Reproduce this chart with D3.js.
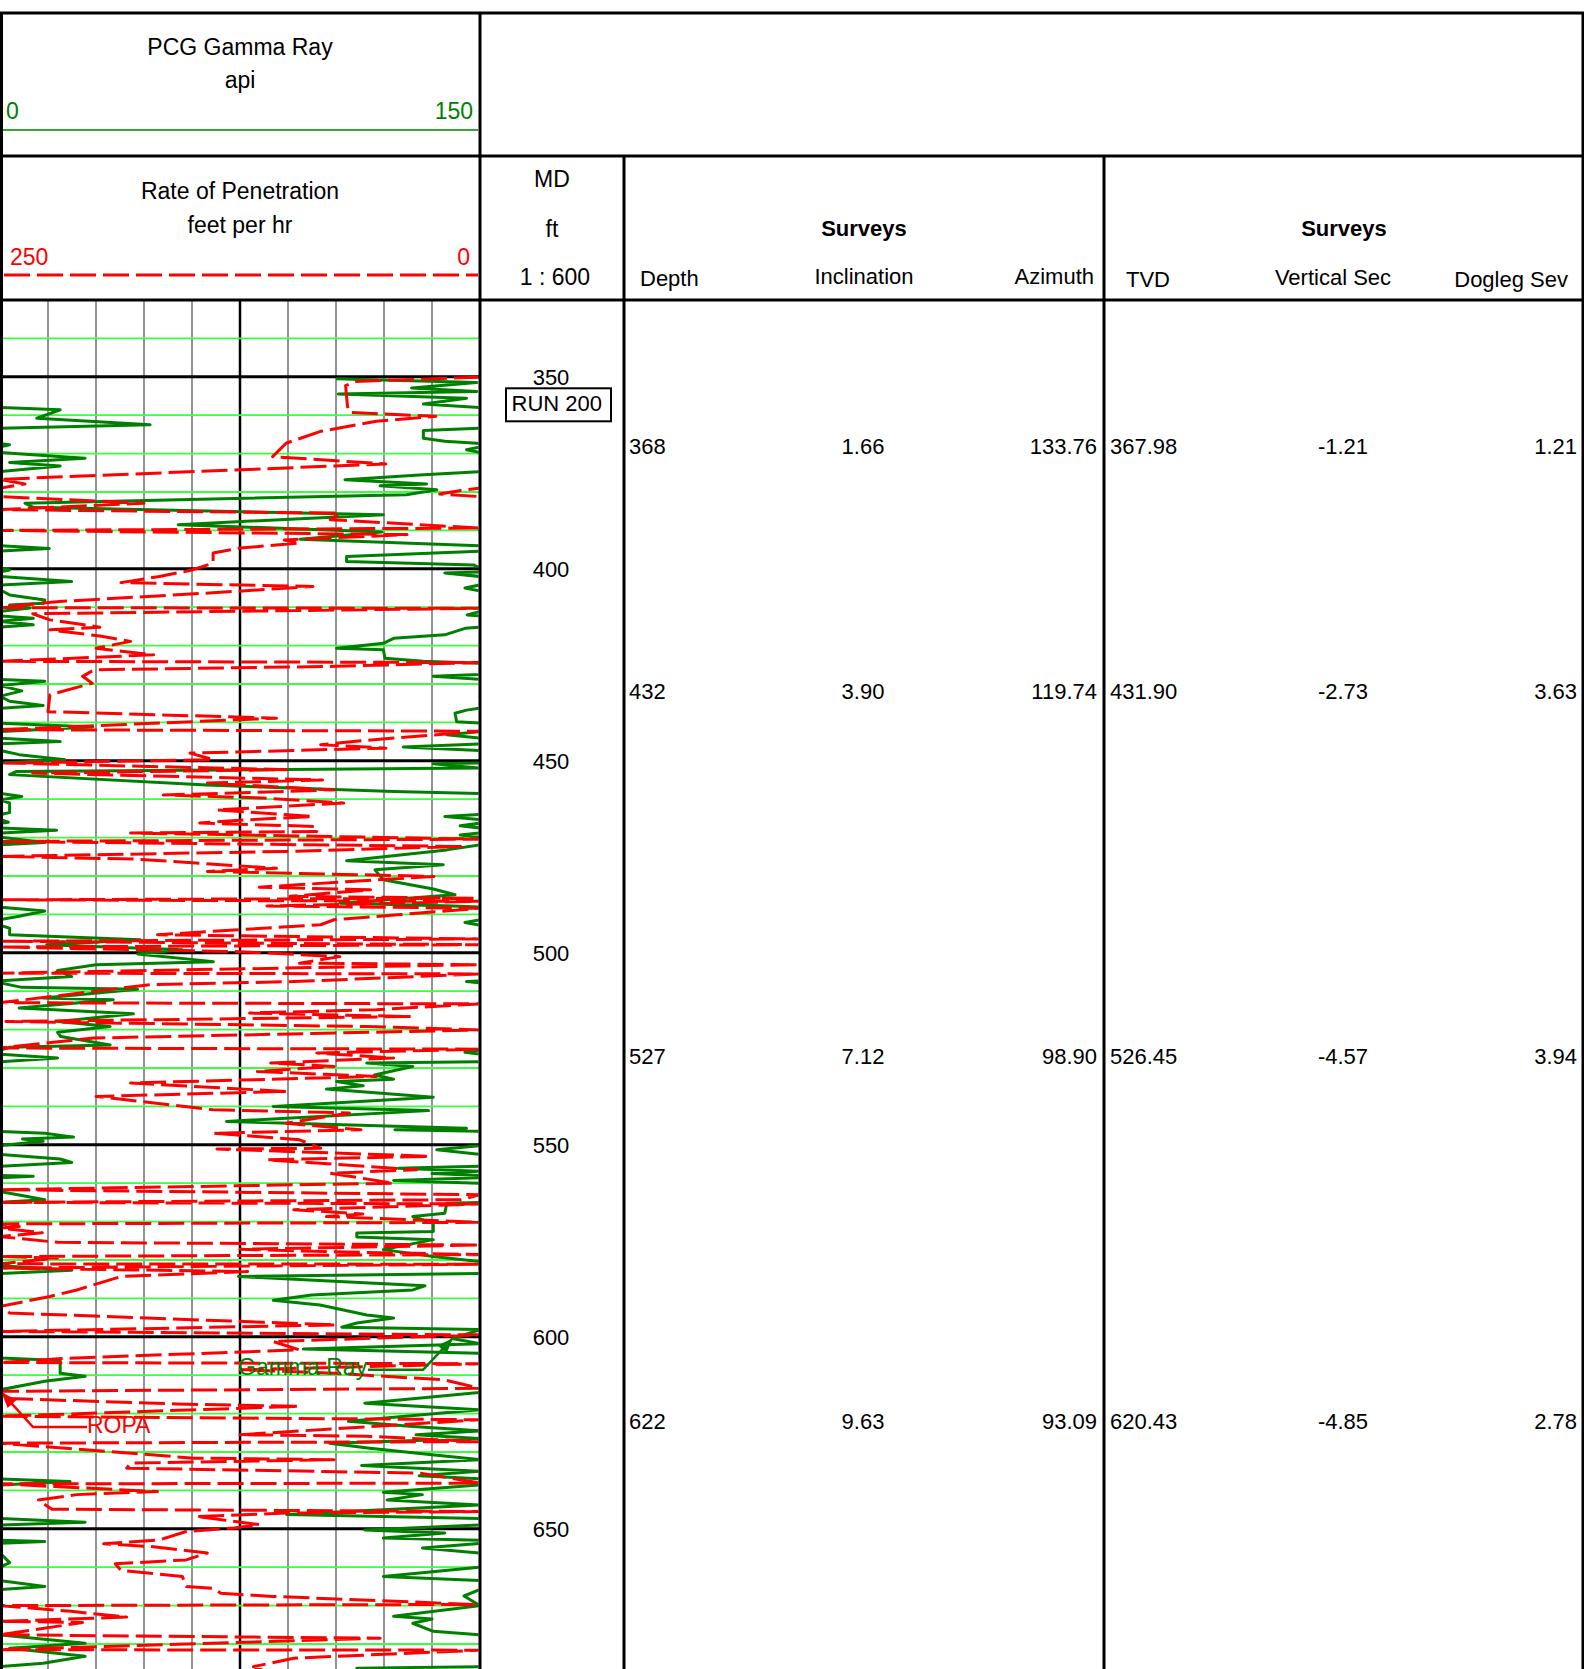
<!DOCTYPE html>
<html>
<head>
<meta charset="utf-8">
<script src="https://cdnjs.cloudflare.com/ajax/libs/d3/7.8.5/d3.min.js"></script>
<style>
  body { margin: 0; background: #fff; }
  text { font-family: "Liberation Sans", Arial, sans-serif; }
</style>
</head>
<body>
<div id="log"></div>
<script>
// gamma ray [depth ft, api]; values above 150 wrap back in from the left edge
const grPoints = [[350.5,105],[351.5,149],[352.9,128.6],[353.8,149],[354.5,105.7],[355.6,145.8],[357.1,132.3],[358.0,150],[358.6,168.8],[360.8,161.5],[362.5,196.9],[363.4,150],[364.0,132.3],[366.0,132.3],[366.8,139],[367.3,149],[367.7,153],[368.3,150],[369.0,145.8],[369.7,150],[370.1,156.8],[371.2,176.6],[372.3,153],[373.2,168.8],[374.7,150],[375.5,132.3],[376.8,107.8],[377.9,133.3],[378.4,118.8],[379.4,136.5],[380.7,127],[382.9,7.8],[384.0,10.4],[385.9,119.8],[388.5,55.7],[390.4,119.3],[392.3,93.8],[394.0,150],[394.7,165.4],[395.4,150],[396.8,108.3],[398.1,108.3],[399.0,148],[399.8,150],[400.3,153],[400.8,150],[401.1,139],[402.0,150],[403.3,172.4],[404.2,150],[405.0,145.3],[405.9,151],[406.8,153],[408.1,164],[409.0,163.5],[409.4,153],[410.2,159.4],[411.1,150],[412.0,146],[412.9,160.4],[413.7,150],[414.6,160.4],[415.2,150],[415.5,145.3],[417.2,139],[418.1,123],[419.4,119.8],[420.7,105.2],[421.1,119.8],[423.3,120.3],[424.1,132.3],[424.6,150],[427.5,150],[428.0,135.4],[428.8,150],[429.3,164],[430.4,150],[431.8,156.8],[433.2,150],[434.5,153],[435.6,163.5],[436.3,150],[436.8,145.8],[437.6,142.2],[439.8,142.7],[440.2,150],[441.2,179],[442.4,150],[443.2,139.6],[444.1,150],[445.0,168.8],[445.6,150],[446.4,126],[447.3,150],[448.4,156],[449.7,170.3],[450.6,150],[450.8,135.4],[451.9,150],[452.8,5],[453.6,3],[456.3,64.6],[458.0,123],[458.5,150],[459.3,156.8],[460.2,150],[461.0,153],[463.5,153],[464.0,150],[464.5,139],[465.3,150],[466.0,152.6],[466.9,143.8],[467.5,150],[468.1,167.7],[468.8,150],[469.3,143.8],[469.9,150],[471.3,164],[471.9,150],[473.2,139.6],[476.0,108.3],[477.1,138.5],[478.4,117.2],[481.0,119.8],[483.4,135.4],[484.9,142.2],[487.1,106.3],[487.8,141.7],[488.1,150],[489.1,164],[490.5,156],[491.4,150],[492.1,145.3],[492.8,150],[493.6,153],[495.3,153],[496.6,193.8],[497.9,164.6],[499.2,207],[500.3,193],[502.3,216.7],[503.1,180],[504.6,168],[506.2,172.4],[507.3,150],[507.5,145.8],[507.8,150],[509.0,156.8],[509.5,193],[511.8,163.5],[512.2,185.4],[514.4,156],[515.9,191.7],[517.9,168],[519.2,184.4],[520.7,168],[521.8,169],[524.0,184.4],[524.6,153],[525.4,150],[525.9,145.3],[526.4,150],[527.4,168],[528.4,150],[528.7,114.6],[529.6,129],[531.8,117],[532.9,123],[533.5,105.2],[534.6,113.5],[535.5,102],[537.6,135.4],[540.0,85.4],[541.1,133.9],[543.9,70.8],[545.7,145.8],[546.1,123.4],[546.5,150],[547.0,164],[548.0,173],[548.5,157],[549.1,163.5],[550.2,150],[551.3,136.5],[552.5,150],[553.7,168.8],[554.6,172.4],[555.6,150],[556.1,124.5],[556.9,150],[557.5,135],[558.0,150],[558.2,160.4],[558.6,150],[559.3,123],[560.0,150],[562.2,150],[562.6,153],[564.3,164],[565.0,150],[565.2,139.6],[567.8,139],[568.7,129],[570.4,135.4],[572.6,135.4],[573.0,111.5],[574.0,111.5],[574.7,135.4],[577.3,119.8],[579.1,135.4],[580.4,150],[581.5,150],[582.7,172.4],[583.5,150],[584.3,74.5],[586.7,132.8],[587.8,129],[589.1,97.4],[590.5,85.4],[591.7,100],[594.3,114.6],[595.1,123],[596.4,111.5],[597.5,106.8],[598.1,150],[600.5,141.7],[601.8,150],[603.2,94.8],[604.3,150],[605.5,150],[606.2,168.8],[609.5,168.8],[610.3,176.6],[611.6,164],[613.8,150],[614.5,150],[617.3,114],[619.0,150],[622.0,108.9],[623.3,128],[624.5,150],[625.5,130],[626.5,150],[627.7,103],[629.0,115.6],[630.7,135],[632.0,150],[633.5,113],[635.0,150],[636.2,131],[637.0,150],[637.7,171.9],[638.6,150],[640.5,119.8],[641.1,132],[642.5,121],[643.8,150],[646.3,89.6],[647.3,150],[648.3,176.6],[649.0,150],[650.3,114],[651.1,139],[652.4,119.8],[653.0,150],[653.3,164],[653.8,150],[655.0,132],[656.3,150],[658.8,153],[660.0,150],[662.4,119.8],[663.5,150],[665.0,164],[665.8,150],[667.5,145],[670.0,150],[672.8,123],[673.5,135],[674.6,129],[676.7,135.4],[677.6,150],[679.8,176.6],[681.1,153],[683.2,176.6],[685.0,163.5],[685.9,150],[686.3,111.5],[687.5,120]];

// rate of penetration [depth ft, ft/hr]; values above 250 wrap back in from the right edge
const ropPoints = [[350.1,0],[351.2,65],[352.3,70],[357.7,69],[359.3,68],[360.3,23],[361.6,54],[364.2,83],[367.3,101],[370.8,108],[372.7,49],[376.7,250],[377.9,237],[379.0,250],[379.6,260],[380.5,271],[381.2,250],[382.9,175],[384.6,250],[385.5,73],[387.2,78],[389.4,0],[390.0,250],[391.1,38],[392.5,102],[393.3,94],[394.6,125],[395.9,139],[398.5,139],[400.3,150],[402.0,167],[403.6,187],[404.6,87],[406.3,141],[408.5,219],[410.1,250],[410.3,0],[411.7,233],[413.3,224],[415.2,198],[415.9,224],[417.5,198],[418.9,182],[420.7,200],[422.4,170],[424.1,250],[424.4,0],[425.4,75],[426.3,201],[428.0,207],[429.8,202],[432.8,224],[437.2,225],[438.9,106],[441.9,250],[442.3,0],[444.7,60],[445.8,83],[446.7,49],[448.0,151],[449.7,139],[450.6,247],[452.3,101],[453.2,233],[455.0,82],[455.8,142],[457.6,76],[458.9,165],[459.7,113],[461.0,71],[462.8,137],[464.5,87],[465.4,122],[466.2,146],[467.1,85],[468.4,85],[468.8,182],[470.4,0],[471.0,250],[472.3,10],[473.6,101],[474.9,250],[475.6,179],[478.0,106],[478.8,142],[480.1,24],[482.9,115],[483.6,57],[485.3,99],[485.8,3],[486.2,250],[486.6,0],[487.8,111],[488.4,0],[490.1,43],[491.4,76],[492.7,83],[495.3,168],[496.4,0],[497.0,250],[497.9,0],[498.5,250],[499.7,125],[501.0,73],[502.7,94],[503.1,0],[504.0,104],[505.3,250],[505.5,0],[507.5,97],[508.3,172],[513.0,250],[513.3,0],[514.8,54],[515.7,120],[516.6,36],[517.9,247],[519.2,59],[520.1,0],[522.2,201],[524.8,250],[525.1,0],[526.1,85],[527.4,45],[528.7,109],[529.6,76],[530.9,116],[532.2,54],[533.9,182],[536.1,101],[537.4,200],[540.9,139],[541.7,68],[544.4,101],[546.1,62],[547.0,139],[548.7,94],[550.9,83],[551.1,137],[553.0,26],[553.9,111],[556.5,33],[557.4,78],[560.0,45],[561.7,250],[563.0,0],[564.3,10],[565.0,250],[565.4,0],[566.9,97],[568.0,61],[568.7,80],[570.2,0],[570.6,250],[571.3,240],[571.7,250],[572.9,228],[573.9,250],[575.4,220],[576.1,0],[577.2,125],[577.8,81],[578.6,0],[579.1,250],[579.5,220],[581.0,250],[581.1,0],[582.1,250],[583.0,121],[584.3,187],[587.8,210],[589.5,224],[592.1,250],[593.8,245],[596.9,75],[598.6,250],[599.5,0],[601.2,108],[603.4,94],[605.6,215],[606.7,250],[607.0,0],[608.6,125],[609.5,76],[611.2,19],[613.4,0],[614.2,250],[616.0,250],[617.5,158],[618.1,94],[620.7,250],[621.6,0],[625.5,125],[625.9,59],[627.3,0],[627.7,250],[631.6,149],[632.0,76],[632.9,182],[634.2,184],[635.5,31],[638.1,0],[638.3,250],[640.3,168],[641.1,210],[642.5,230],[644.9,223],[645.5,0],[645.9,101],[646.8,148],[648.9,115],[649.8,128],[650.7,153],[652.9,167],[653.9,196],[654.6,172],[656.3,142],[658.1,153],[659.1,190],[660.8,187],[662.4,155],[665.0,153],[665.5,139],[666.8,135],[667.6,108],[669.7,3],[670.0,250],[671.5,213],[673.0,184],[674.1,250],[674.4,207],[677.6,250],[678.5,52],[681.5,250],[681.6,0],[683.7,97],[685.9,118],[687.5,110]];

const depthTicks = [350, 400, 450, 500, 550, 600, 650];

const surveyDepth = [368, 432, 527, 622];
const surveyInc = ['1.66', '3.90', '7.12', '9.63'];
const surveyAzi = ['133.76', '119.74', '98.90', '93.09'];
const surveyTvd = ['367.98', '431.90', '526.45', '620.43'];
const surveyVsec = ['-1.21', '-2.73', '-4.57', '-4.85'];
const surveyDls = ['1.21', '3.63', '3.94', '2.78'];

const w = 1584;
const h = 1669;
const xTrack = 480, xMD = 624, xSv = 1104, xRight = 1583;
const yTop = 13, yRow1 = 156, yRow2 = 300;
const green = '#008000', red = '#ff0000';
const dash = '26,7';

const svg = d3.select('#log').append('svg')
    .attr('width', w).attr('height', h)
    .style('display', 'block').style('background', '#fff');

const yScale = d3.scaleLinear().domain([330, 700]).range([yRow2, yRow2 + 370 * 3.84]);
const grScale = d3.scaleLinear().domain([0, 150]).range([0, xTrack]);
const ropScale = d3.scaleLinear().domain([250, 0]).range([0, xTrack]);

svg.append('clipPath').attr('id', 'trackClip')
    .append('rect').attr('x', 1.5).attr('y', yRow2).attr('width', xTrack - 3).attr('height', h - yRow2);

// grid
const grid = svg.append('g');
grid.selectAll('.vgrid').data(d3.range(15, 150, 15)).enter().append('line')
    .attr('x1', d => grScale(d)).attr('x2', d => grScale(d))
    .attr('y1', yRow2).attr('y2', h)
    .attr('stroke', d => d === 75 ? '#000' : '#808080')
    .attr('stroke-width', d => d === 75 ? 2.5 : 1.7);
const hDepths = d3.range(340, 690, 10);
grid.selectAll('.hgrid').data(hDepths.filter(d => d % 50 !== 0)).enter().append('line')
    .attr('x1', 1).attr('x2', xTrack)
    .attr('y1', d => yScale(d)).attr('y2', d => yScale(d))
    .attr('stroke', '#3cff3c').attr('stroke-width', 1.8);
grid.selectAll('.hmajor').data(hDepths.filter(d => d % 50 === 0)).enter().append('line')
    .attr('x1', 1).attr('x2', xTrack)
    .attr('y1', d => yScale(d)).attr('y2', d => yScale(d))
    .attr('stroke', '#000').attr('stroke-width', 3);

// curves, each drawn a second time shifted by one scale width (wrap)
const curves = svg.append('g').attr('clip-path', 'url(#trackClip)');
function drawCurve(points, scale, span, color, dashed) {
    [0, span].forEach(shift => {
        const line = d3.line().x(p => scale(p[1] - shift)).y(p => yScale(p[0]));
        curves.append('path').datum(points)
            .attr('d', line)
            .attr('fill', 'none')
            .attr('stroke', color)
            .attr('stroke-width', 3)
            .attr('stroke-linejoin', 'round')
            .attr('stroke-dasharray', dashed ? dash : null);
    });
}
drawCurve(grPoints, grScale, 150, green, false);
drawCurve(ropPoints, ropScale, 250, red, true);

// curve labels with leader arrows
function arrowLabel(label, color, textPos, elbow, tip, anchorText) {
    const g = svg.append('g');
    g.append('text').attr('x', textPos[0]).attr('y', textPos[1])
        .attr('fill', color).attr('font-size', 23).text(label);
    g.append('polyline')
        .attr('points', [anchorText, elbow, tip].map(p => p.join(',')).join(' '))
        .attr('fill', 'none').attr('stroke', color).attr('stroke-width', 2.5);
    const ang = Math.atan2(tip[1] - elbow[1], tip[0] - elbow[0]);
    const L = 16, W = 6;
    const bx = tip[0] - L * Math.cos(ang), by = tip[1] - L * Math.sin(ang);
    g.append('polygon')
        .attr('points', [[tip[0], tip[1]],
            [bx + W * Math.sin(ang), by - W * Math.cos(ang)],
            [bx - W * Math.sin(ang), by + W * Math.cos(ang)]].map(p => p.join(',')).join(' '))
        .attr('fill', color);
}
arrowLabel('Gamma Ray', green,
    [grScale(74.4), yScale(609.9)], [grScale(132.2), yScale(608.6)], [grScale(141.6), yScale(600.3)],
    [grScale(115), yScale(608.6)]);
arrowLabel('ROPA', red,
    [ropScale(204.7), yScale(625)], [ropScale(232.8), yScale(623.5)], [ropScale(249.3), yScale(614.4)],
    [ropScale(204.7), yScale(623.5)]);

// frame
const frame = svg.append('g').attr('stroke', '#000').attr('stroke-width', 3).attr('fill', 'none');
frame.append('rect').attr('x', 1.5).attr('y', yTop).attr('width', xRight - 1.5).attr('height', h + 10 - yTop);
frame.append('line').attr('x1', 0).attr('x2', xRight).attr('y1', yRow1).attr('y2', yRow1);
frame.append('line').attr('x1', 0).attr('x2', xRight).attr('y1', yRow2).attr('y2', yRow2);
frame.append('line').attr('x1', xTrack).attr('x2', xTrack).attr('y1', yTop).attr('y2', h);
frame.append('line').attr('x1', xMD).attr('x2', xMD).attr('y1', yRow1).attr('y2', h);
frame.append('line').attr('x1', xSv).attr('x2', xSv).attr('y1', yRow1).attr('y2', h);

// header
function txt(x, y, s, opts = {}) {
    return svg.append('text').attr('x', x).attr('y', y)
        .attr('font-size', opts.size || 22)
        .attr('text-anchor', opts.anchor || 'start')
        .attr('font-weight', opts.bold ? 'bold' : null)
        .attr('fill', opts.color || '#000')
        .text(s);
}
txt(240, 55, 'PCG Gamma Ray', { size: 23, anchor: 'middle' });
txt(240, 88, 'api', { size: 23, anchor: 'middle' });
txt(6, 119, '0', { size: 23, color: green });
txt(473, 119, '150', { size: 23, color: green, anchor: 'end' });
svg.append('line').attr('x1', 3).attr('x2', 478).attr('y1', 130).attr('y2', 130)
    .attr('stroke', green).attr('stroke-width', 1.3);

txt(240, 199, 'Rate of Penetration', { size: 23, anchor: 'middle' });
txt(240, 233, 'feet per hr', { size: 23, anchor: 'middle' });
txt(10, 265, '250', { size: 23, color: red });
txt(470, 265, '0', { size: 23, color: red, anchor: 'end' });
svg.append('line').attr('x1', 4).attr('x2', 478).attr('y1', 275).attr('y2', 275)
    .attr('stroke', red).attr('stroke-width', 3).attr('stroke-dasharray', dash);

txt(552, 187, 'MD', { size: 23, anchor: 'middle' });
txt(552, 237, 'ft', { size: 23, anchor: 'middle' });
txt(555, 285, '1 : 600', { size: 23, anchor: 'middle' });

txt(864, 236, 'Surveys', { anchor: 'middle', bold: true });
txt(640, 286, 'Depth');
txt(864, 284, 'Inclination', { anchor: 'middle' });
txt(1094, 284, 'Azimuth', { anchor: 'end' });
txt(1344, 236, 'Surveys', { anchor: 'middle', bold: true });
txt(1126, 287, 'TVD');
txt(1333, 285, 'Vertical Sec', { anchor: 'middle' });
txt(1568, 287, 'Dogleg Sev', { anchor: 'end' });

// depth track labels
svg.selectAll('.md').data(depthTicks).enter().append('text')
    .attr('x', 551).attr('y', d => yScale(d)).attr('dy', '0.35em')
    .attr('text-anchor', 'middle').attr('font-size', 22).text(d => d);

svg.append('rect').attr('x', 506).attr('y', yScale(350) + 11.5).attr('width', 105).attr('height', 33)
    .attr('fill', '#fff').attr('stroke', '#000').attr('stroke-width', 2);
txt(511.5, yScale(350) + 34.5, 'RUN 200');

// survey rows
const cols = [
    { vals: surveyDepth, x: 629, anchor: 'start' },
    { vals: surveyInc, x: 863, anchor: 'middle' },
    { vals: surveyAzi, x: 1097, anchor: 'end' },
    { vals: surveyTvd, x: 1110, anchor: 'start' },
    { vals: surveyVsec, x: 1343, anchor: 'middle' },
    { vals: surveyDls, x: 1577, anchor: 'end' }
];
cols.forEach(c => {
    svg.append('g').selectAll('text').data(c.vals).enter().append('text')
        .attr('x', c.x).attr('y', (d, i) => yScale(surveyDepth[i])).attr('dy', '0.35em')
        .attr('text-anchor', c.anchor).attr('font-size', 22).text(d => d);
});
</script>
</body>
</html>
